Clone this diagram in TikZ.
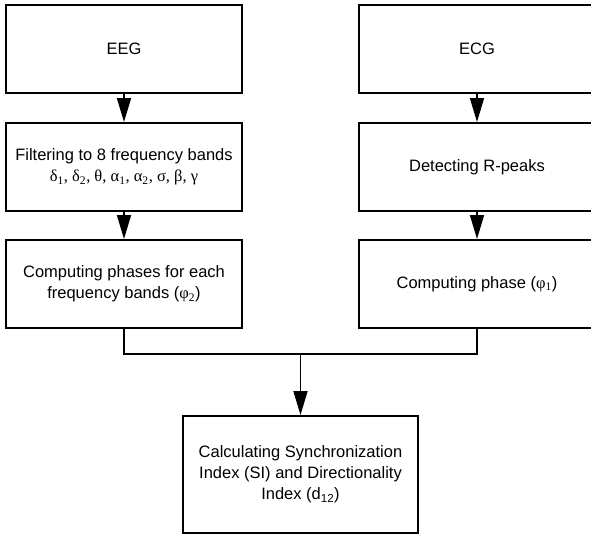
\documentclass[tikz,border=0pt]{standalone}
\usepackage{fontspec}
\setmainfont{Liberation Sans}
\newfontfamily\griega{Liberation Serif}
\usetikzlibrary{arrows.meta}

\begin{document}
\begin{tikzpicture}[x=1pt, y=-1pt,
        caja/.style={draw, line width=2pt, minimum width=236pt, minimum height=88pt,
            align=center, font=\fontsize{16.5}{21}\selectfont},
        linea/.style={line width=1.7pt},
        flecha/.style={linea, -{Triangle[length=24pt, width=14pt]}}]
        \clip (0,0) rectangle (591,536);

        % Rama EEG
        \node[caja] (eeg) at (124,49) {EEG};
        \node[caja] (filtro) at (124,167) {Filtering to 8 frequency bands\\
            {\griega δ\textsubscript{1}, δ\textsubscript{2}, θ, α\textsubscript{1}, α\textsubscript{2}, σ, β, γ}};
        \node[caja] (fases) at (124,284) {Computing phases for each\\
            frequency bands ({\griega φ\textsubscript{2}})};

        % Rama ECG
        \node[caja] (ecg) at (477,49) {ECG};
        \node[caja] (rpicos) at (477,167) {Detecting R-peaks};
        \node[caja] (fase) at (477,284) {Computing phase ({\griega φ\textsubscript{1}})};

        % Resultado
        \node[caja, minimum width=235pt, minimum height=117pt] (indice) at (300.5,474.5)
            {Calculating Synchronization\\ Index (SI) and Directionality\\ Index (d\textsubscript{12})};

        \draw[flecha] (eeg) -- (filtro);
        \draw[flecha] (filtro) -- (fases);
        \draw[flecha] (ecg) -- (rpicos);
        \draw[flecha] (rpicos) -- (fase);

        % Union de ambas ramas
        \coordinate (junta) at (300.5,354);
        \draw[linea] (fases.south) |- (junta) -| (fase.south);
        \draw[flecha] (junta) -- (indice.north);
\end{tikzpicture}
\end{document}
